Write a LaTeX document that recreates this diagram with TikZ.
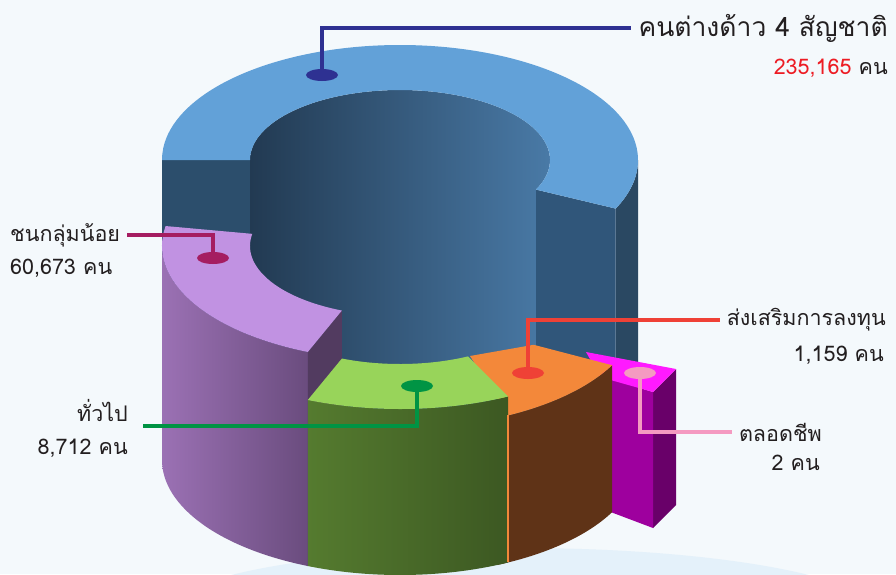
\documentclass[tikz,border=0pt]{standalone}
\usepackage{fontspec}
\newfontfamily\thaifont[Script=Thai]{Loma}
\usetikzlibrary{shapes,positioning}

\definecolor{bgc}{HTML}{F4F9FC}
\definecolor{shadowc}{HTML}{E4F1FA}
\definecolor{bluetop}{HTML}{62A1D8}
\definecolor{bluecut}{HTML}{2C4E6C}
\definecolor{bluecutR}{HTML}{30567A}
\definecolor{blueside}{HTML}{2A4862}
\definecolor{holeL}{HTML}{223A52}
\definecolor{holeR}{HTML}{4A7BA8}
\definecolor{purptop}{HTML}{C192E2}
\definecolor{purpL}{HTML}{9B71B4}
\definecolor{purpR}{HTML}{6A4C7E}
\definecolor{purpcut}{HTML}{523B60}
\definecolor{greentop}{HTML}{98D45A}
\definecolor{greenL}{HTML}{557B2F}
\definecolor{greenR}{HTML}{3C5822}
\definecolor{orangetop}{HTML}{F3883A}
\definecolor{brownside}{HTML}{5F3317}
\definecolor{magtop}{HTML}{FF1AFF}
\definecolor{magfront}{HTML}{9E009E}
\definecolor{magside}{HTML}{690069}
\definecolor{lineB}{HTML}{2E3192}
\definecolor{lineP}{HTML}{A51D61}
\definecolor{lineG}{HTML}{009444}
\definecolor{lineO}{HTML}{EF4136}
\definecolor{lineM}{HTML}{F49AC1}
\definecolor{numred}{HTML}{ED1C24}
\definecolor{txt}{HTML}{231F20}

\begin{document}
\begin{tikzpicture}[x=1pt,y=-1pt]
\tikzstyle{rout}=[x radius=238,y radius=115]
\tikzstyle{rin}=[x radius=150,y radius=70]
\tikzstyle{lbl}=[inner xsep=7pt,inner ysep=0pt,text=txt,font=\thaifont\fontsize{21.5}{25}\selectfont]
\tikzstyle{big}=[font=\thaifont\fontsize{26.5}{30}\selectfont]
\tikzstyle{tipdot}=[shape=ellipse,minimum width=32pt,minimum height=12pt,inner sep=0pt]
\tikzstyle{leader}=[line width=4pt]

\useasboundingbox (0,0) rectangle (896,574);
\clip (0,0) rectangle (896,574);

% background
\fill[bgc] (0,0) rectangle (896,574);
\fill[shadowc] (520,615) ellipse [x radius=360,y radius=67];

% big segment
\fill[bluecut] (162,160) rectangle (250,460);
\fill[blueside] ([shift={(400,160)}]0:238 and 115) arc[rout,start angle=0,end angle=25]
  -- ([shift={(400,460)}]25:238 and 115) arc[rout,start angle=25,end angle=0] -- cycle;
\fill[bluecutR] ([shift={(400,160)}]25:150 and 70) -- ([shift={(400,160)}]25:238 and 115)
  -- ([shift={(400,460)}]25:238 and 115) -- ([shift={(400,460)}]25:150 and 70) -- cycle;
\shade[left color=holeL,right color=holeR] (250,160) arc[rin,start angle=180,end angle=385]
  -- ([shift={(400,460)}]25:150 and 70) -- (250,460) -- cycle;
\fill[bluetop] (162,160) arc[rout,start angle=180,end angle=385]
  -- ([shift={(400,160)}]25:150 and 70) arc[rin,start angle=385,end angle=180] -- cycle;

% small piece
\fill[magside] (653,392) -- (676,369) -- (676,505) -- (653,528) -- cycle;
\fill[magfront] (600,376) -- (653,392) -- (653,528) -- (600,508) -- cycle;
\fill[magtop] (586,352) -- (676,369) -- (653,392) -- (600,377) -- cycle;

% orange segment
\fill[brownside] ([shift={(400,313)}]27:238 and 115) arc[rout,start angle=27,end angle=66]
  -- ([shift={(400,460)}]66:238 and 115) arc[rout,start angle=66,end angle=27] -- cycle;
\fill[orangetop] ([shift={(400,313)}]27:150 and 70) -- ([shift={(400,313)}]27:238 and 115)
  arc[rout,start angle=27,end angle=63] -- (470,356) -- cycle;

% purple segment
\shade[left color=purpL,right color=purpR] ([shift={(400,246)}]112.8:238 and 115) arc[rout,start angle=112.8,end angle=180]
  -- (162,460) arc[rout,start angle=180,end angle=112.8] -- cycle;
\fill[purpcut] ([shift={(400,246)}]112.8:150 and 70) -- ([shift={(400,246)}]112.8:238 and 115)
  -- ([shift={(400,460)}]112.8:238 and 115) -- ([shift={(400,460)}]112.8:150 and 70) -- cycle;
\fill[purptop] ([shift={(400,246)}]112.8:238 and 115) arc[rout,start angle=112.8,end angle=190]
  -- ([shift={(400,246)}]190:150 and 70) arc[rin,start angle=190,end angle=112.8] -- cycle;

% green segment
\shade[left color=greenL,right color=greenR] ([shift={(400,294)}]63:238 and 115) arc[rout,start angle=63,end angle=112.8]
  -- ([shift={(400,460)}]112.8:238 and 115) arc[rout,start angle=112.8,end angle=63] -- cycle;
\fill[greentop] ([shift={(400,294)}]63:238 and 115) arc[rout,start angle=63,end angle=112.8]
  -- ([shift={(400,294)}]112.8:150 and 70) arc[rin,start angle=112.8,end angle=63] -- cycle;
\draw[orangetop,line width=1.2pt] ([shift={(400,313)}]63:238 and 115) -- ([shift={(400,460)}]63:238 and 115);

% labels
\node[lbl,big,anchor=east] (BT) at (895,28) {คนต่างด้าว 4 สัญชาติ};
\node[lbl,anchor=east] (BN) at (895,68) {\textcolor{numred}{235,165} คน};
\node[lbl,anchor=west] (PT) at (3,235) {ชนกลุ่มน้อย};
\node[lbl,anchor=west] (PN) at (3,268) {60,673 คน};
\node[lbl,anchor=east] (GT) at (135,410) {ทั่วไป};
\node[lbl,anchor=east] (GN) at (135,448) {8,712 คน};
\node[lbl,anchor=east] (OT) at (893,320) {ส่งเสริมการลงทุน};
\node[lbl,anchor=east] (ON) at (891,355) {1,159 คน};
\node[lbl,anchor=east] (MT) at (829,432) {ตลอดชีพ};
\node[lbl,anchor=east] (MN) at (827,463) {2 คน};
\coordinate (GE) at (143,426);

\node[tipdot,fill=lineB] (BD) at (322,75) {};
\node[tipdot,fill=lineP] (PD) at (213,258) {};
\node[tipdot,fill=lineG] (GD) at (417,386) {};
\node[tipdot,fill=lineO] (OD) at (528,373) {};
\node[tipdot,fill=lineM] (MD) at (640,373) {};

\draw[leader,lineB] (BD.center) |- (BT.west);
\draw[leader,lineP] (PD.center) |- (PT.east);
\draw[leader,lineG] (GD.center) |- (GE);
\draw[leader,lineO] (OD.center) |- (OT.west);
\draw[leader,lineM] (MD.center) |- (MT.west);
\end{tikzpicture}
\end{document}
